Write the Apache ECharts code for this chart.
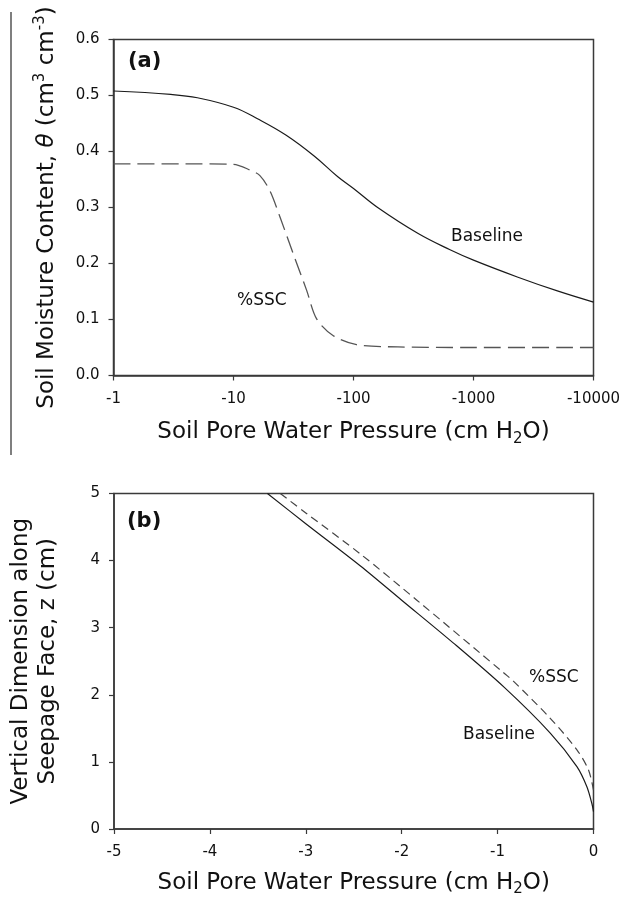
<!DOCTYPE html>
<html><head><meta charset="utf-8">
<script src="https://cdn.jsdelivr.net/npm/echarts@6/dist/echarts.min.js"></script>
<style>html,body{margin:0;padding:0;background:#fff}#c{width:624px;height:900px}</style>
</head><body><div id="c"></div>
<script>
// Panel (a): soil water retention curves
const aBaselinePressure = [-1, -3, -5, -10, -16, -27.5, -47, -74, -100, -159, -343, -631, -1000, -2317, -5000, -10000];
const aBaselineTheta    = [0.508, 0.502, 0.496, 0.479, 0.458, 0.429, 0.392, 0.355, 0.334, 0.300, 0.254, 0.225, 0.206, 0.176, 0.151, 0.131];
const aSSCPressure = [-1, -4, -10, -13.7, -16.6, -20.1, -24.4, -31.5, -40.7, -49.3, -67.9, -106, -234, -1000, -10000];
const aSSCTheta    = [0.378, 0.378, 0.377, 0.367, 0.357, 0.330, 0.283, 0.217, 0.152, 0.101, 0.071, 0.055, 0.051, 0.050, 0.050];
const aYTicks = [0, 0.1, 0.2, 0.3, 0.4, 0.5, 0.6];
const aXTicks = ['-1', '-10', '-100', '-1000', '-10000'];

// Panel (b): pressure along seepage face
const bBaselinePressure = [-3.40, -3.0, -2.43, -2.0, -1.46, -0.93, -0.451, -0.173, -0.069, -0.017, 0];
const bBaselineZ        = [5.0, 4.55, 3.92, 3.41, 2.77, 2.11, 1.43, 0.93, 0.63, 0.38, 0.26];
const bSSCPressure = [-3.266, -3.0, -2.432, -1.842, -0.922, -0.833, -0.451, -0.173, -0.052, 0];
const bSSCZ        = [5.0, 4.71, 4.10, 3.41, 2.31, 2.20, 1.65, 1.18, 0.88, 0.58];
const bXTicks = [-5, -4, -3, -2, -1, 0];
const bYTicks = [0, 1, 2, 3, 4, 5];

const FONT = 'DejaVu Sans';
const AX = '#3a3a3a';
const zip = (xs, ys, fx) => xs.map((x, i) => [fx ? fx(x) : x, ys[i]]);

const chart = echarts.init(document.getElementById('c'), null, {renderer: 'canvas'});

const axisCommon = {
  axisLine: {show: true, onZero: false, lineStyle: {color: AX, width: 1.5}},
  axisTick: {show: true, inside: false, length: 5, lineStyle: {color: AX, width: 1.2}},
  splitLine: {show: false},
  minorTick: {show: false},
  nameLocation: 'middle',
  nameTextStyle: {fontFamily: FONT, fontSize: 23, color: '#111', lineHeight: 28,
    rich: {
      sub: {fontFamily: FONT, fontSize: 15, color: '#111', lineHeight: 16, verticalAlign: 'bottom'},
      sup: {fontFamily: FONT, fontSize: 15, color: '#111', lineHeight: 14, verticalAlign: 'top'},
      it: {fontFamily: FONT, fontSize: 23, color: '#111', fontStyle: 'italic', lineHeight: 28}
    }}
};
const labelCommon = {fontFamily: FONT, fontSize: 15, color: '#111'};

const option = {
  animation: false,
  backgroundColor: '#fff',
  grid: [
    {left: 113.5, top: 39.5, width: 480, height: 336, show: true, borderColor: AX, borderWidth: 1.5, backgroundColor: 'transparent'},
    {left: 113.5, top: 493.5, width: 480, height: 335.5, show: true, borderColor: AX, borderWidth: 1.5, backgroundColor: 'transparent'}
  ],
  xAxis: [
    Object.assign({}, axisCommon, {
      gridIndex: 0, type: 'log', logBase: 10, min: 1, max: 10000,
      name: 'Soil Pore Water Pressure (cm H{sub|2}O)', nameGap: 43,
      axisLabel: Object.assign({}, labelCommon, {margin: 16,
        formatter: v => aXTicks[Math.round(Math.log10(v))] })
    }),
    Object.assign({}, axisCommon, {
      gridIndex: 1, type: 'value', min: bXTicks[0], max: bXTicks[bXTicks.length - 1], interval: 1,
      name: 'Soil Pore Water Pressure (cm H{sub|2}O)', nameGap: 40,
      axisLabel: Object.assign({}, labelCommon, {margin: 16})
    })
  ],
  yAxis: [
    Object.assign({}, axisCommon, {
      gridIndex: 0, type: 'value', min: aYTicks[0], max: aYTicks[aYTicks.length - 1], interval: 0.1,
      name: 'Soil Moisture Content, {it|θ} (cm{sup|3} cm{sup|-3})', nameGap: 52.5,
      axisLabel: Object.assign({}, labelCommon, {margin: 14, formatter: v => v.toFixed(1)})
    }),
    Object.assign({}, axisCommon, {
      gridIndex: 1, type: 'value', min: bYTicks[0], max: bYTicks[bYTicks.length - 1], interval: 1,
      name: 'Vertical Dimension along\nSeepage Face, z (cm)', nameGap: 52,
      nameTextStyle: Object.assign({}, axisCommon.nameTextStyle, {lineHeight: 27}),
      axisLabel: Object.assign({}, labelCommon, {margin: 14})
    })
  ],
  series: [
    {type: 'line', xAxisIndex: 0, yAxisIndex: 0, data: zip(aBaselinePressure, aBaselineTheta, p => -p),
      showSymbol: false, smooth: 0.4, lineStyle: {color: '#1a1a1a', width: 1.2}},
    {type: 'line', xAxisIndex: 0, yAxisIndex: 0, data: zip(aSSCPressure, aSSCTheta, p => -p),
      showSymbol: false, smooth: 0.3, lineStyle: {color: '#555', width: 1.3, type: [17, 7]}},
    {type: 'line', xAxisIndex: 1, yAxisIndex: 1, data: zip(bBaselinePressure, bBaselineZ),
      showSymbol: false, smooth: 0.3, lineStyle: {color: '#1a1a1a', width: 1.2}},
    {type: 'line', xAxisIndex: 1, yAxisIndex: 1, data: zip(bSSCPressure, bSSCZ),
      showSymbol: false, smooth: 0.3, lineStyle: {color: '#444', width: 1.2, type: [8, 5]}}
  ],
  graphic: [
    {type: 'line', shape: {x1: 11, y1: 12, x2: 11, y2: 455}, style: {stroke: '#555', lineWidth: 1.5}},
    {type: 'text', x: 128, y: 62, style: {text: '(a)', font: 'bold 21px "DejaVu Sans"', fill: '#111', verticalAlign: 'middle'}},
    {type: 'text', x: 127, y: 522, style: {text: '(b)', font: 'bold 21px "DejaVu Sans"', fill: '#111', verticalAlign: 'middle'}},
    {type: 'text', x: 451, y: 237, style: {text: 'Baseline', font: '17px "DejaVu Sans"', fill: '#111', verticalAlign: 'middle'}},
    {type: 'text', x: 237, y: 301, style: {text: '%SSC', font: '17px "DejaVu Sans"', fill: '#111', verticalAlign: 'middle'}},
    {type: 'text', x: 529, y: 678, style: {text: '%SSC', font: '17px "DejaVu Sans"', fill: '#111', verticalAlign: 'middle'}},
    {type: 'text', x: 463, y: 735, style: {text: 'Baseline', font: '17px "DejaVu Sans"', fill: '#111', verticalAlign: 'middle'}}
  ]
};
chart.setOption(option);
</script>
</body></html>
